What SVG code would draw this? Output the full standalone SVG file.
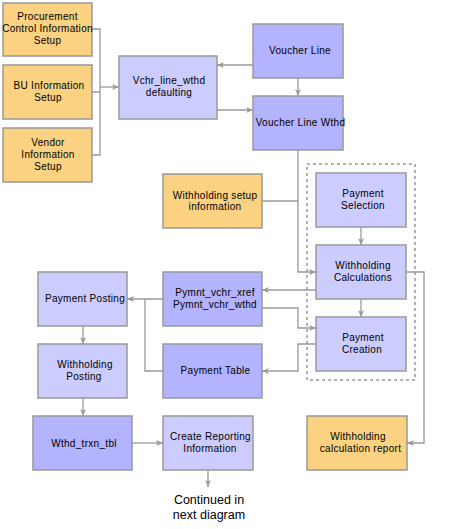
<svg xmlns="http://www.w3.org/2000/svg" width="450" height="529" viewBox="0 0 450 529">
<style>
.o,.l,.d,.g{stroke:#999;stroke-width:1.5}
.o{fill:#FAD282}
.l{fill:#CCCCFF}
.d{fill:#B3B3FF}
.g{fill:none;stroke-dasharray:3,3}
text{font-family:"Liberation Sans",Arial,sans-serif;font-size:10px;letter-spacing:0.3px;fill:#000;text-anchor:middle}
.c{font-size:12.5px;letter-spacing:0}
#connectors path{fill:none;stroke:#999;stroke-width:1.3}
</style>
<defs>
<marker id="a" markerUnits="userSpaceOnUse" markerWidth="8" markerHeight="8" refX="7" refY="4" orient="auto">
<path d="M0,1 L7,4 L0,7 L2,4 Z" fill="#999"/>
</marker>
</defs>
<rect x="0" y="0" width="450" height="529" fill="#fff"/>
<g id="connectors">
<path d="M92,29 H100 V155 H92 M92,92 H100"/>
<path d="M100,87 H119" marker-end="url(#a)"/>
<path d="M253,65 H217" marker-end="url(#a)"/>
<path d="M217,110 H253" marker-end="url(#a)"/>
<path d="M298,78 V96" marker-end="url(#a)"/>
<path d="M298,150 V272 H316" marker-end="url(#a)"/>
<path d="M262,201 H298"/>
<path d="M361,227 V245" marker-end="url(#a)"/>
<path d="M361,299 V317" marker-end="url(#a)"/>
<path d="M316,290 H262" marker-end="url(#a)"/>
<path d="M262,308 H298 V328 H316" marker-end="url(#a)"/>
<path d="M316,344 H298 V371 H262" marker-end="url(#a)"/>
<path d="M406,272 H424 V443 H407" marker-end="url(#a)"/>
<path d="M163,299 H127" marker-end="url(#a)"/>
<path d="M145,299 V371 H163"/>
<path d="M83,326 V344" marker-end="url(#a)"/>
<path d="M83,398 V416" marker-end="url(#a)"/>
<path d="M132,443 H163" marker-end="url(#a)"/>
<path d="M208,470 V487" marker-end="url(#a)"/>
<rect class="g" x="307" y="164" width="108" height="216"/>
</g>
<g id="procurement"><rect class="o" x="3" y="3" width="89" height="53"/><text x="47.5" y="20">Procurement</text><text x="47.5" y="32">Control Information</text><text x="47.5" y="44">Setup</text></g>
<g id="bu"><rect class="o" x="3" y="65" width="89" height="54"/><text x="49" y="89">BU Information</text><text x="48" y="101">Setup</text></g>
<g id="vendor"><rect class="o" x="3" y="128" width="89" height="54"/><text x="48" y="146">Vendor</text><text x="48" y="158">Information</text><text x="48" y="170">Setup</text></g>
<g id="vchr"><rect class="l" x="119" y="56" width="98" height="63"/><text x="169" y="84">Vchr_line_wthd</text><text x="169" y="96">defaulting</text></g>
<g id="voucherline"><rect class="d" x="253" y="24" width="90" height="54"/><text x="300" y="54">Voucher Line</text></g>
<g id="voucherlinewthd"><rect class="d" x="253" y="96" width="90" height="54"/><text x="300.5" y="126">Voucher Line Wthd</text></g>
<g id="whsetup"><rect class="o" x="163" y="174" width="99" height="54"/><text x="215" y="198.5">Withholding setup</text><text x="215" y="210">information</text></g>
<g id="payselect"><rect class="l" x="316" y="173" width="90" height="54"/><text x="363" y="197">Payment</text><text x="363" y="209">Selection</text></g>
<g id="whcalc"><rect class="l" x="316" y="245" width="90" height="54"/><text x="363" y="269">Withholding</text><text x="363" y="281">Calculations</text></g>
<g id="paycreate"><rect class="l" x="316" y="317" width="90" height="54"/><text x="363" y="341">Payment</text><text x="362" y="353">Creation</text></g>
<g id="pymnt"><rect class="d" x="163" y="272" width="99" height="54"/><text x="215" y="296">Pymnt_vchr_xref</text><text x="215" y="308">Pymnt_vchr_wthd</text></g>
<g id="paytable"><rect class="d" x="163" y="344" width="99" height="54"/><text x="215.5" y="374">Payment Table</text></g>
<g id="payposting"><rect class="l" x="38" y="272" width="89" height="54"/><text x="85" y="302">Payment Posting</text></g>
<g id="whposting"><rect class="l" x="38" y="344" width="89" height="54"/><text x="85" y="368">Withholding</text><text x="84" y="380">Posting</text></g>
<g id="wthdtrxn"><rect class="d" x="33" y="416" width="99" height="54"/><text x="84" y="446.5">Wthd_trxn_tbl</text></g>
<g id="createreport"><rect class="l" x="163" y="416" width="90" height="54"/><text x="210.5" y="440">Create Reporting</text><text x="210" y="452">Information</text></g>
<g id="calcreport"><rect class="o" x="307" y="416" width="100" height="54"/><text x="358" y="440">Withholding</text><text x="360.5" y="452">calculation report</text></g>
<g id="continued"><text class="c" x="209" y="504">Continued in</text><text class="c" x="209" y="519">next diagram</text></g>
</svg>
